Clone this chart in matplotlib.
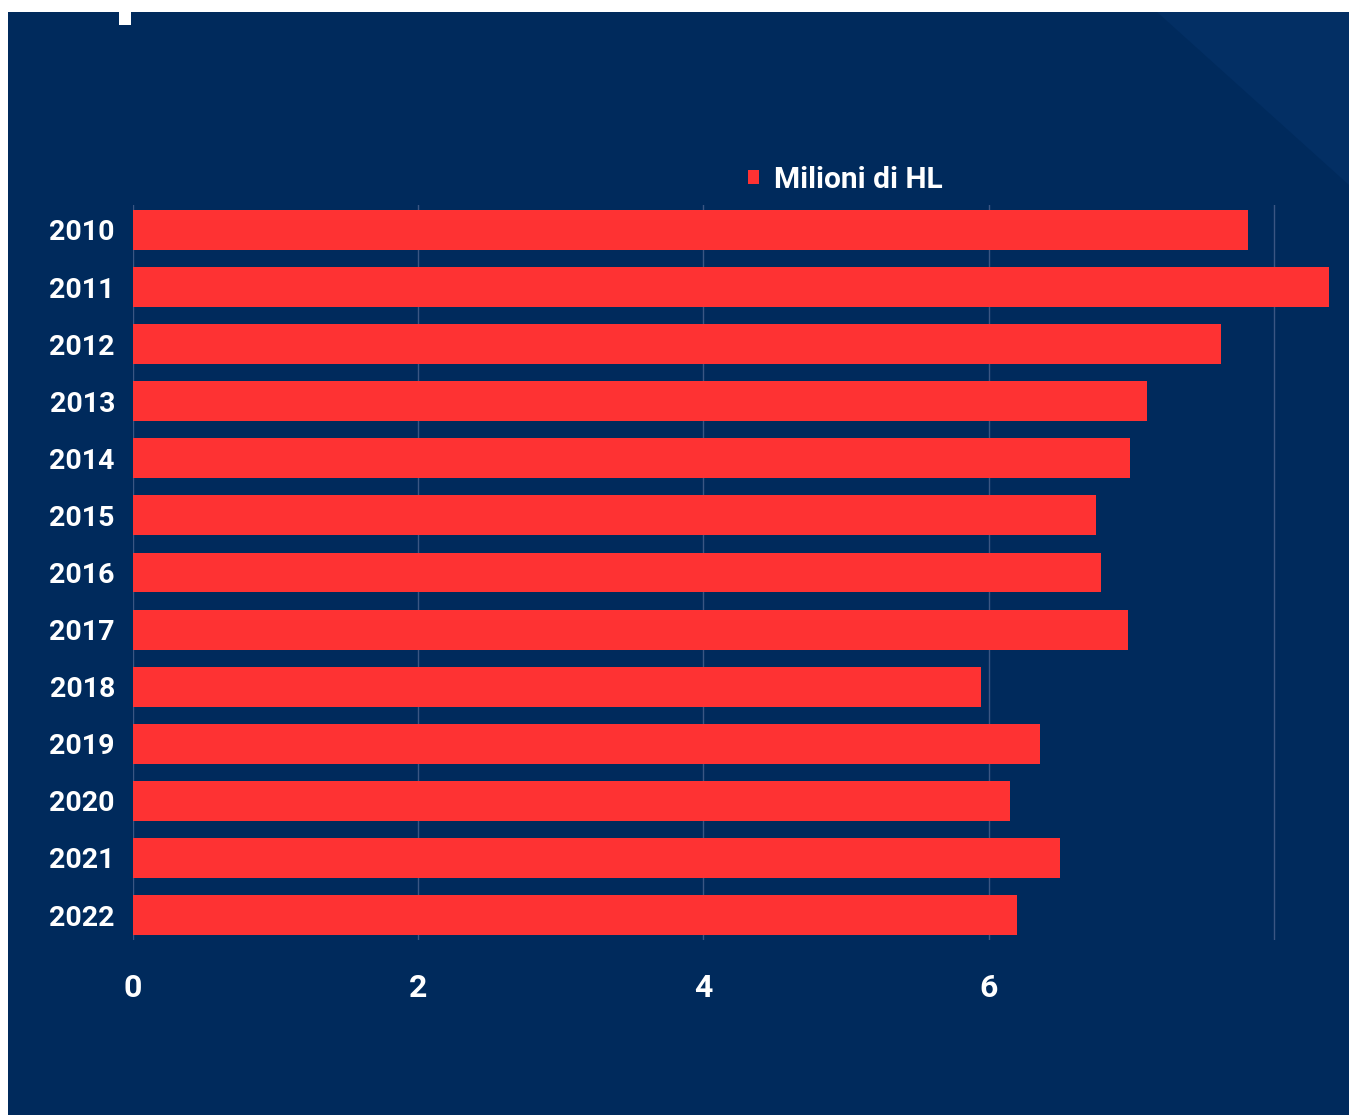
import matplotlib.pyplot as plt
from matplotlib.patches import Rectangle, Polygon

anni = ["2010", "2011", "2012", "2013", "2014", "2015", "2016",
        "2017", "2018", "2019", "2020", "2021", "2022"]
milioni_hl = [7.82, 8.39, 7.63, 7.11, 6.99, 6.75, 6.79,
              6.98, 5.95, 6.36, 6.15, 6.50, 6.20]
x_ticks = [0, 2, 4, 6, 8]
x_labels = ["0", "2", "4", "6", ""]

W, H = 1349, 1115
navy = "#002a5c"
rosso = "#fe3233"

fig = plt.figure(figsize=(W / 100, H / 100), dpi=100, facecolor="white")

# sfondo blu (bordo bianco in alto e a sinistra)
fig.patches.append(Rectangle((8 / W, 0), 1 - 8 / W, 1 - 12 / H,
                             transform=fig.transFigure, facecolor=navy,
                             edgecolor="none", zorder=-10))
# zona piu chiara in alto a destra
fig.patches.append(Polygon([(1157 / W, 1 - 12 / H), (1, 1 - 12 / H),
                            (1, 1 - 185 / H)],
                           closed=True, transform=fig.transFigure,
                           facecolor="#032f64", edgecolor="none", zorder=-9))
# resto del titolo tagliato
fig.patches.append(Rectangle((119 / W, 1 - 25 / H), 12 / W, 13 / H,
                             transform=fig.transFigure, facecolor="white",
                             edgecolor="none", zorder=-8))

px_unit = 142.6
left_px, right_px = 133, 1340
top_px, bot_px = 205.4, 939.6
ax = fig.add_axes([left_px / W, 1 - bot_px / H,
                   (right_px - left_px) / W, (bot_px - top_px) / H])
ax.set_facecolor("none")

pos = list(range(len(anni)))
ax.barh(pos, milioni_hl, height=0.70, color=rosso, label="Milioni di HL",
        zorder=3)

ax.set_xlim(0, (right_px - left_px) / px_unit)
ax.set_ylim(len(anni) - 1 + 0.43, -0.43)

ax.set_yticks(pos)
ax.set_yticklabels(anni, fontsize=20.5, fontweight="bold", color="white",
                   family=["Roboto", "DejaVu Sans"])
ax.set_xticks(x_ticks)
ax.set_xticklabels(x_labels, fontsize=23, fontweight="bold", color="white",
                   family=["Roboto", "DejaVu Sans"])
ax.tick_params(axis="both", length=0)
ax.tick_params(axis="x", pad=24)
ax.tick_params(axis="y", pad=13)

ax.grid(axis="x", color="#3b5683", linewidth=1, zorder=1)
ax.grid(axis="y", visible=False)
for s in ax.spines.values():
    s.set_visible(False)

leg = ax.legend(loc="center left", bbox_to_anchor=(748 / W, 1 - 180 / H),
                bbox_transform=fig.transFigure, frameon=False,
                handlelength=0.36, handleheight=0.36, handletextpad=0.5,
                borderpad=0, borderaxespad=0,
                prop={"family": ["Roboto", "DejaVu Sans"], "weight": "bold",
                      "size": 21.5})
for t in leg.get_texts():
    t.set_color("white")

fig.savefig("out.png", dpi=100, facecolor=fig.get_facecolor())
